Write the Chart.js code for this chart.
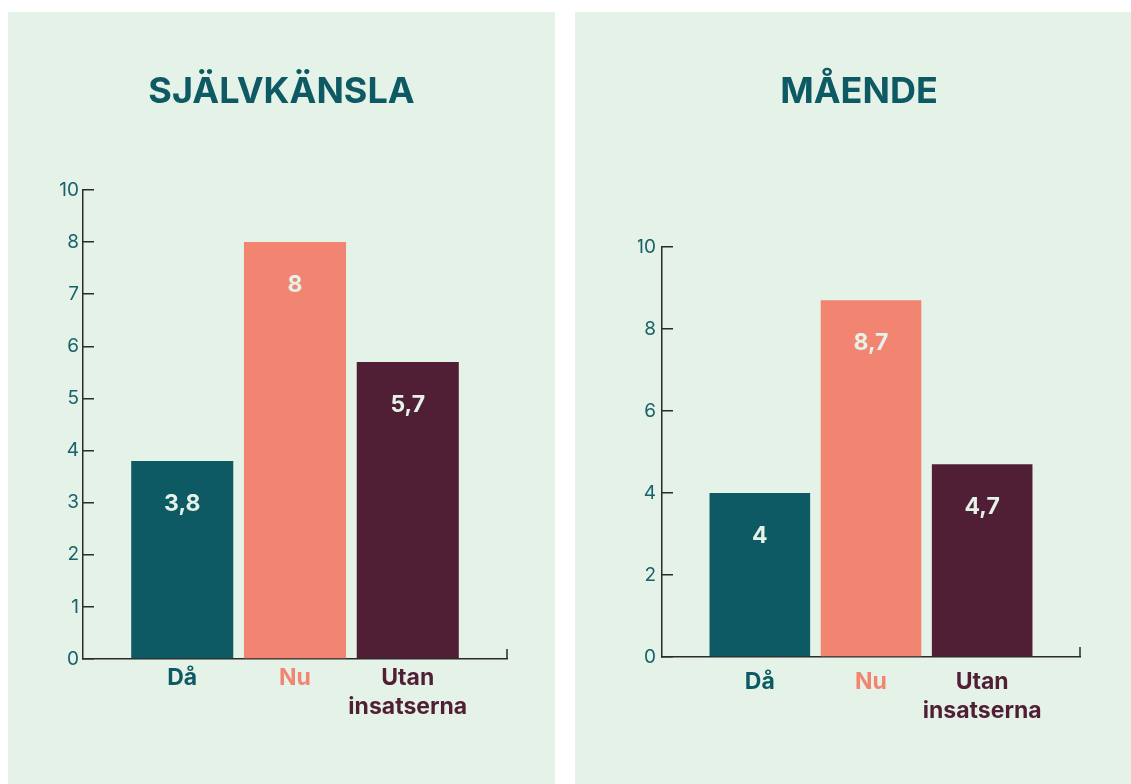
<!DOCTYPE html>
<html lang="sv">
<head>
<meta charset="utf-8">
<title>Självkänsla och mående</title>
<script src="https://cdn.jsdelivr.net/npm/chart.js@4"></script>
<style>
  body { margin: 0; background: #fff; overflow: hidden; width: 1131px; height: 784px; position: relative; }
  .panel { position: absolute; top: 12px; height: 772px; background: #e4f2e7; }
  #panel1 { left: 8px; width: 547px; }
  #panel2 { left: 575px; width: 568px; }
  canvas { display: block; }
</style>
</head>
<body>
<div class="panel" id="panel1"><canvas id="chart1" width="547" height="772"></canvas></div>
<div class="panel" id="panel2"><canvas id="chart2" width="568" height="772"></canvas></div>

<script>
// data
const categories = ['Då', 'Nu', ['Utan', 'insatserna']];
const barColors = ['#0d5a64', '#f28572', '#501f35'];

const selfEsteemValues = [3.8, 8, 5.7];
const selfEsteemTicks = ['0', '1', '2', '3', '4', '5', '6', '7', '8', '10'];

const wellbeingValues = [4, 8.7, 4.7];
const wellbeingTicks = ['0', '2', '4', '6', '8', '10'];

const titleColor = '#0d5a64';
const tickColor = '#18626b';
const axisColor = '#2b2b2b';
const fontFamily = 'Inter, "Open Sans", sans-serif';

// value labels inside the bars + the small end tick on the x axis
const barExtras = {
    id: 'barExtras',
    afterDatasetsDraw(chart) {
        const ctx = chart.ctx;
        const meta = chart.getDatasetMeta(0);
        ctx.save();
        ctx.font = 'bold 23px ' + fontFamily;
        ctx.fillStyle = '#e4f2e7';
        ctx.textAlign = 'center';
        ctx.textBaseline = 'middle';
        meta.data.forEach((bar, i) => {
            const v = chart.data.datasets[0].data[i].y;
            ctx.fillText(String(v).replace('.', ','), bar.x, bar.y + 43);
        });
        const a = chart.chartArea;
        ctx.strokeStyle = axisColor;
        ctx.lineWidth = 1.5;
        ctx.beginPath();
        ctx.moveTo(a.right, a.bottom);
        ctx.lineTo(a.right, a.bottom - 10);
        ctx.stroke();
        ctx.restore();
    }
};

function makeChart(id, title, values, tickLabels, yMax, step, opts) {
    const ctx = document.getElementById(id);
    const data = {
        datasets: [{
            data: values.map((v, i) => ({ x: i, y: v })),
            backgroundColor: barColors,
            borderWidth: 0,
            barPercentage: 0.905,
            categoryPercentage: 1
        }]
    };
    const config = {
        type: 'bar',
        data,
        options: {
            responsive: false,
            animation: false,
            layout: { padding: opts.padding },
            plugins: {
                legend: { display: false },
                tooltip: { enabled: false },
                title: {
                    display: true,
                    text: title,
                    color: titleColor,
                    font: { family: fontFamily, size: 36, weight: 'bold', lineHeight: 1.2 },
                    padding: { top: 59, bottom: opts.titleBottom }
                }
            },
            scales: {
                x: {
                    type: 'linear',
                    offset: false,
                    min: -0.88,
                    max: 2.88,
                    afterBuildTicks: s => { s.ticks = categories.map((c, i) => ({ value: i })); },
                    afterFit: s => { s.height = 70; },
                    grid: { display: false, drawTicks: false },
                    border: { color: axisColor, width: 1.5 },
                    ticks: {
                        autoSkip: false,
                        maxRotation: 0,
                        padding: opts.xPad,
                        color: c => barColors[c.index],
                        font: { family: fontFamily, size: 23, weight: 'bold', lineHeight: 1.24 },
                        callback: (v, i) => categories[i]
                    }
                },
                y: {
                    min: 0,
                    max: yMax,
                    afterFit: s => { s.width = opts.yWidth; },
                    grid: { drawOnChartArea: false, tickLength: -11, color: axisColor, lineWidth: 1.5 },
                    border: { color: axisColor, width: 1.5 },
                    ticks: {
                        stepSize: step,
                        padding: opts.yPad,
                        color: tickColor,
                        font: { family: fontFamily, size: 19 },
                        callback: (v, i) => tickLabels[i]
                    }
                }
            }
        },
        plugins: [barExtras]
    };
    return new Chart(ctx, config);
}

makeChart('chart1', 'SJÄLVKÄNSLA', selfEsteemValues, selfEsteemTicks, 9, 1, {
    padding: { left: 48, right: 48, bottom: 55, top: 0 },
    yWidth: 27,
    titleBottom: 75.8,
    xPad: 5,
    yPad: 15
});

makeChart('chart2', 'MÅENDE', wellbeingValues, wellbeingTicks, 10, 2, {
    padding: { left: 63, right: 63, bottom: 57, top: 0 },
    yWidth: 24,
    titleBottom: 132.8,
    xPad: 11,
    yPad: 17
});
</script>
</body>
</html>
